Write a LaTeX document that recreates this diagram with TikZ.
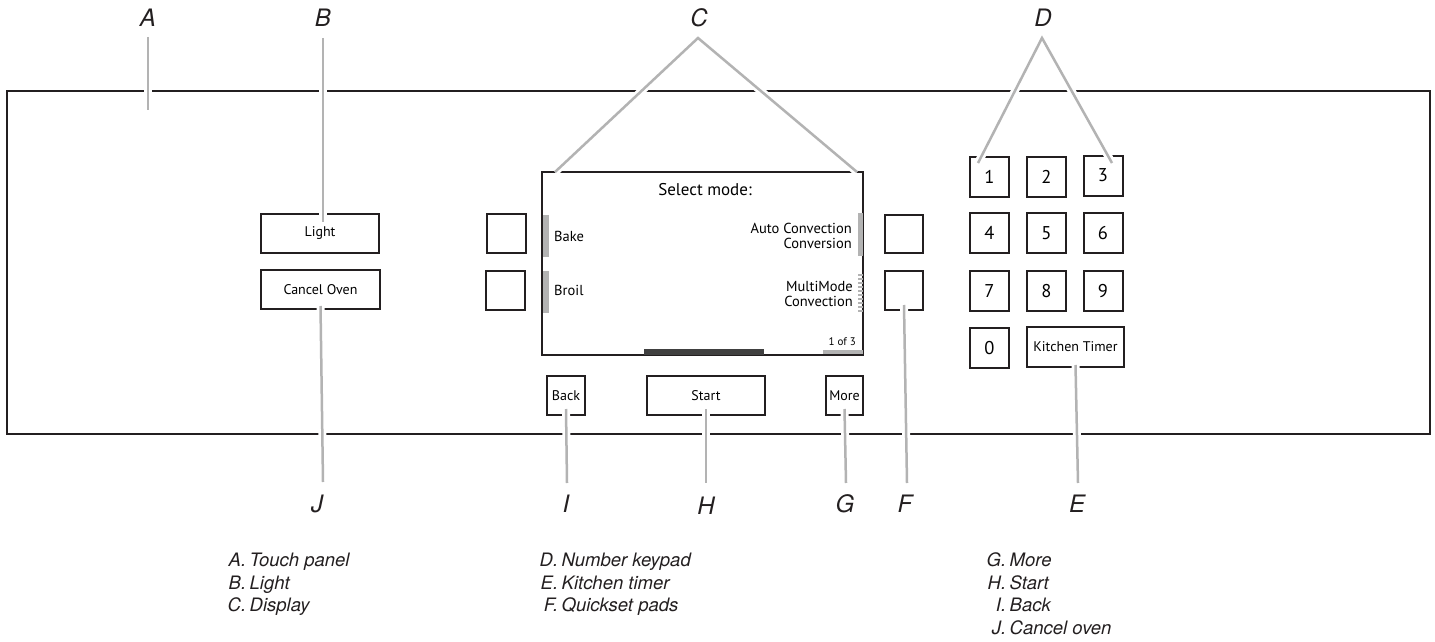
\documentclass[tikz,border=0pt]{standalone}
\usepackage{fontspec}
\setmainfont{PT Sans}
\newfontfamily\helv{TeX Gyre Heros}
\definecolor{ink}{HTML}{231F20}
\definecolor{lead}{HTML}{B3B3B3}
\definecolor{barg}{HTML}{B3B3B3}
\definecolor{bard}{HTML}{404040}
\newcommand\lgitem[2]{\makebox[21pt][r]{#1.}\hspace{3.5pt}#2}
\begin{document}
\begin{tikzpicture}[x=1pt,y=-1pt,
  panelbox/.style={draw=ink, line width=2pt, inner sep=0pt},
  btn/.style={draw=ink, line width=2pt, inner sep=0pt, fill=white, font=\fontsize{14}{14}\selectfont},
  keybtn/.style={btn, minimum width=39pt, minimum height=40pt, font=\fontsize{18.5}{18.5}\selectfont},
  dtext/.style={inner sep=0pt, font=\fontsize{14.5}{15.5}\selectfont},
  lab/.style={inner sep=0pt, font=\helv\itshape\fontsize{24}{24}\selectfont, text=ink},
  legd/.style={inner sep=0pt, font=\helv\itshape\fontsize{18.5}{18.5}\selectfont, text=ink, anchor=base west},
  leader/.style={draw=lead, line width=2.5pt, preaction={draw=white, line width=8pt}}]
\useasboundingbox (0,0) rectangle (1435,642);

% panel
\node[panelbox, minimum width=1423pt, minimum height=343pt] (panel) at (718.5,262.5) {};

% left buttons
\node[btn, minimum width=118pt, minimum height=39pt] (light) at (320,233.5) {Light};
\node[btn, minimum width=119pt, minimum height=39pt] (cancel) at (320.5,289.5) {Cancel Oven};

% quickset pads
\node[btn, minimum width=39pt, minimum height=39pt] (ql1) at (506.5,233.5) {};
\node[btn, minimum width=39pt, minimum height=39pt] (ql2) at (505.5,290.5) {};
\node[btn, minimum width=38pt, minimum height=38pt] (qr1) at (904,234) {};
\node[btn, minimum width=38pt, minimum height=39pt] (qr2) at (904,290.5) {};

% display
\node[panelbox, minimum width=321pt, minimum height=183pt] (display) at (702.5,263.5) {};
\fill[barg] (543,215) rectangle (549,257);
\fill[barg] (543,271) rectangle (549,313);
\fill[barg] (858,213) rectangle (862.5,256);
\foreach \yy in {274.5,278.5,...,312.5} \draw[barg, line width=2pt] (858,\yy) -- (862.5,\yy);
\fill[bard] (644,349) rectangle (764,355);
\fill[barg] (823,349.5) rectangle (862.5,353.5);
\node[inner sep=0pt, anchor=base, font=\fontsize{17}{17}\selectfont] (sel) at (705,195) {Select mode:};
\node[dtext, anchor=base west] (bake) at (554,241) {Bake};
\node[dtext, anchor=base west] (broil) at (554,295) {Broil};
\node[dtext, anchor=east, align=right] (auto) at (852,236) {Auto Convection\\Conversion};
\node[dtext, anchor=east, align=right] (multi) at (853,294) {MultiMode\\Convection};
\node[inner sep=0pt, anchor=base east, font=\fontsize{11}{11}\selectfont] (page) at (856,345) {1 of 3};

% bottom buttons
\node[btn, minimum width=38pt, minimum height=39pt] (back) at (566,395.5) {Back};
\node[btn, minimum width=118pt, minimum height=39pt] (start) at (706,395.5) {Start};
\node[btn, minimum width=37pt, minimum height=39pt] (more) at (844.5,395.5) {More};

% keypad
\node[keybtn] (k1) at (989.5,177) {1};
\node[keybtn] (k2) at (1046.5,176.5) {2};
\node[keybtn] (k3) at (1103,175.5) {3};
\node[keybtn] (k4) at (989.5,233) {4};
\node[keybtn] (k5) at (1046.5,233) {5};
\node[keybtn] (k6) at (1103,233) {6};
\node[keybtn] (k7) at (989.5,291) {7};
\node[keybtn] (k8) at (1046.5,291) {8};
\node[keybtn] (k9) at (1103,291) {9};
\node[keybtn] (k0) at (989.5,348) {0};
\node[btn, minimum width=97pt, minimum height=40pt] (timer) at (1075.5,347) {Kitchen Timer};

% callout labels
\node[lab, anchor=base] (lA) at (148,27) {A};
\node[lab, anchor=base] (lB) at (323,27) {B};
\node[lab, anchor=base] (lC) at (699,27) {C};
\node[lab, anchor=base] (lD) at (1043,27) {D};
\node[lab, anchor=base] (lJ) at (317,512) {J};
\node[lab, anchor=base] (lI) at (566,512) {I};
\node[lab, anchor=base] (lH) at (706,514) {H};
\node[lab, anchor=base] (lG) at (845,512) {G};
\node[lab, anchor=base] (lF) at (905,512) {F};
\node[lab, anchor=base] (lE) at (1077,512) {E};

% leader end points
\coordinate (tA) at (148,37);  \coordinate (eA) at (148,110);
\coordinate (tB) at (323,38);  \coordinate (eB) at (323,222);
\coordinate (tC) at (698,38);  \coordinate (eC1) at (555,172); \coordinate (eC2) at (857,172);
\coordinate (tD) at (1042,38); \coordinate (eD1) at (978,163); \coordinate (eD2) at (1112,163);
\coordinate (bE) at (1078,483); \coordinate (bF) at (907,483); \coordinate (bG) at (846,483);
\coordinate (bH) at (706,483);  \coordinate (bI) at (567,483); \coordinate (bJ) at (323,482);

\draw[leader] (tA) -- (eA);
\draw[leader] (tB) -- (eB);
\draw[leader] (eC1) -- (tC) -- (eC2);
\draw[leader] (eD1) -- (tD) -- (eD2);
\draw[leader] (timer.center |- 0,365) -- (bE);
\draw[leader] (qr2.center |- 0,305) -- (bF);
\draw[leader] (more.center |- 0,409) -- (bG);
\draw[leader] (start.center |- 0,409) -- (bH);
\draw[leader] (back.center |- 0,409) -- (bI);
\draw[leader] (cancel.center |- 0,306) -- (bJ);

% legend
\node[legd] (legA) at (225,566) {\lgitem{A}{Touch panel}};
\node[legd] (legB) at (225,589) {\lgitem{B}{Light}};
\node[legd] (legC) at (225,611.5) {\lgitem{C}{Display}};
\node[legd] (legD) at (537,566) {\lgitem{D}{Number keypad}};
\node[legd] (legE) at (537,589) {\lgitem{E}{Kitchen timer}};
\node[legd] (legF) at (537,611.5) {\lgitem{F}{Quickset pads}};
\node[legd] (legG) at (985,566) {\lgitem{G}{More}};
\node[legd] (legH) at (985,589) {\lgitem{H}{Start}};
\node[legd] (legI) at (985,611.5) {\lgitem{I}{Back}};
\node[legd] (legJ) at (985,634) {\lgitem{J}{Cancel oven}};
\end{tikzpicture}
\end{document}
